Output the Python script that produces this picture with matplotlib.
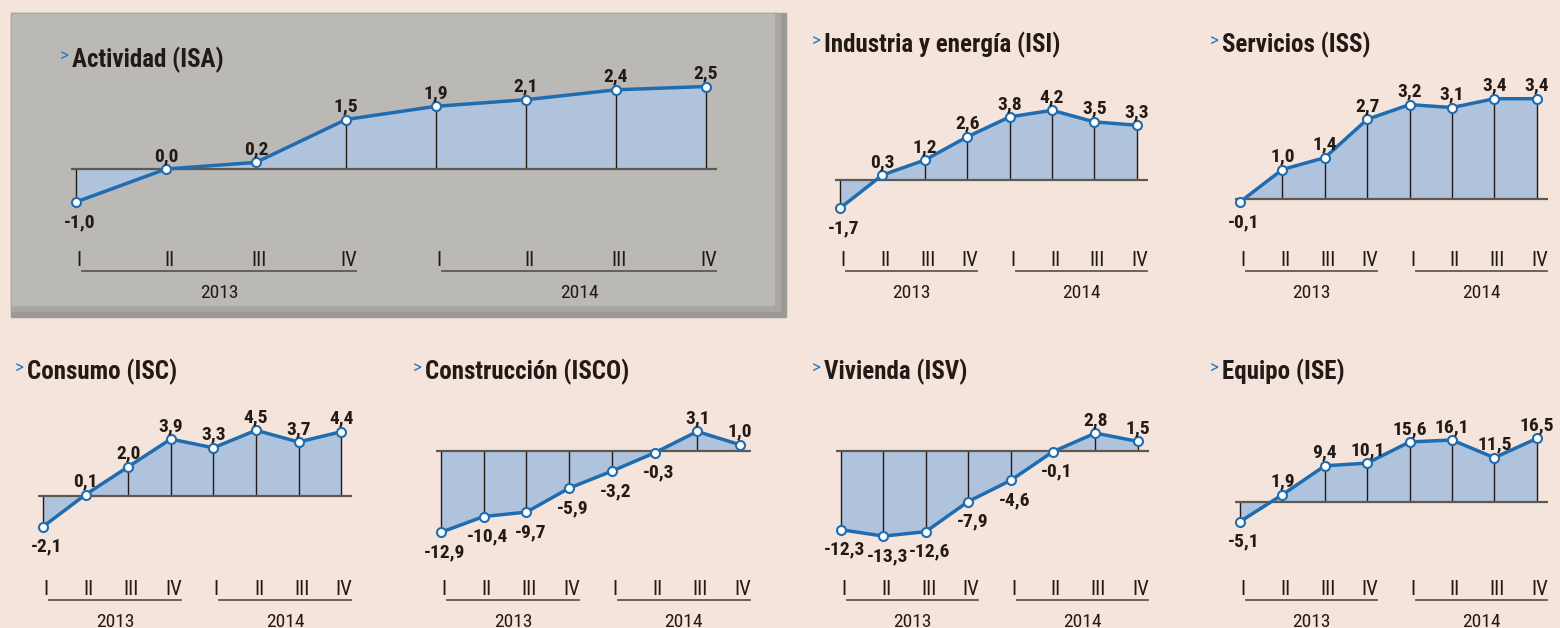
import matplotlib
matplotlib.use('Agg')
import matplotlib.pyplot as plt
from matplotlib import font_manager as fm
from matplotlib.patches import Rectangle

# datos: índices de producción, variación interanual (%)
quarters = ['I', 'II', 'III', 'IV', 'I', 'II', 'III', 'IV']
years = ['2013', '2014']

isa = [-1.0, 0.0, 0.2, 1.5, 1.9, 2.1, 2.4, 2.5]
isi = [-1.7, 0.3, 1.2, 2.6, 3.8, 4.2, 3.5, 3.3]
iss = [-0.1, 1.0, 1.4, 2.7, 3.2, 3.1, 3.4, 3.4]
isc = [-2.1, 0.1, 2.0, 3.9, 3.3, 4.5, 3.7, 4.4]
isco = [-12.9, -10.4, -9.7, -5.9, -3.2, -0.3, 3.1, 1.0]
isv = [-12.3, -13.3, -12.6, -7.9, -4.6, -0.1, 2.8, 1.5]
ise = [-5.1, 1.9, 9.4, 10.1, 15.6, 16.1, 11.5, 16.5]

titles = ['Actividad (ISA)', 'Industria y energía (ISI)', 'Servicios (ISS)',
          'Consumo (ISC)', 'Construcción (ISCO)', 'Vivienda (ISV)', 'Equipo (ISE)']
series = [isa, isi, iss, isc, isco, isv, ise]

# buscar una fuente estrecha
fonts = fm.fontManager.ttflist
names = {f.name for f in fonts}
stretch = 'normal'
fam = 'Liberation Sans'
for cand in ['Liberation Sans Narrow', 'Roboto Condensed', 'Open Sans Condensed']:
    if cand in names:
        fam = cand
        break
else:
    if any(f.name == 'DejaVu Sans' and f.stretch == 'condensed' for f in fonts):
        fam, stretch = 'DejaVu Sans', 'condensed'
plt.rcParams['font.family'] = [fam, 'DejaVu Sans']
plt.rcParams['font.stretch'] = stretch

W, H = 1560, 628
bg = '#f5e4dc'
ink = '#231a15'
blue = '#1f6db0'
fill = '#afc3dc'

fig = plt.figure(figsize=(W / 100, H / 100), dpi=100)
fig.patch.set_facecolor(bg)

# panel gris de Actividad
for (x, y, w, h, c) in [(11, 13, 775, 304, '#9c9894'), (11, 13, 769, 298, '#a9a5a1'),
                        (12, 14, 762, 291, '#bbb9b6')]:
    fig.patches.append(Rectangle((x / W, 1 - (y + h) / H), w / W, h / H,
                                 transform=fig.transFigure, color=c, zorder=-5))

# layout de cada panel (pixeles): primer punto x, paso x, línea cero y, px por unidad,
# y de etiquetas trimestre, y del título, x del título
layout = [
    (76, 90.0, 169, 33.0, 258, 60, 60),
    (840, 42.4, 180, 16.6, 258, 45, 812),
    (1240, 42.4, 199, 29.5, 258, 45, 1210),
    (43, 42.6, 496, 14.6, 587, 372, 15),
    (441, 42.7, 451, 6.3, 587, 372, 413),
    (841, 42.4, 451, 6.4, 587, 372, 812),
    (1240, 42.4, 502, 3.85, 587, 372, 1210),
]

for vals, title, (x0, dx, y0, k, qy, ty, tx) in zip(series, titles, layout):
    top, bot = ty + 15, qy + 45
    left, right = x0 - 30, x0 + 7 * dx + 30
    ax = fig.add_axes([left / W, 1 - bot / H, (right - left) / W, (bot - top) / H])
    ax.set_xlim((left - x0) / dx, (right - x0) / dx)
    ax.set_ylim((y0 - bot) / k, (y0 - top) / k)
    ax.axis('off')
    ax.patch.set_alpha(0)

    xs = list(range(len(vals)))
    ax.fill_between(xs, vals, 0, color=fill, lw=0, zorder=1)
    ax.vlines(xs, 0, vals, color=ink, lw=1.0, zorder=2)
    ax.plot([-5 / dx, 7 + 11 / dx], [0, 0], color='#5e5853', lw=1.6, zorder=2,
            solid_capstyle='butt')
    ax.plot(xs, vals, color=blue, lw=2.5, zorder=3, marker='o', ms=6.5,
            mfc='white', mec=blue, mew=1.5)

    for i, v in enumerate(vals):
        s = f'{v:.1f}'.replace('.', ',')
        off = (4, -25) if v < 0 else (0, 8)
        ax.annotate(s, (i, v), xytext=off, textcoords='offset pixels',
                    ha='center', va='baseline', fontsize=14, fontweight='bold',
                    color=ink, zorder=4)

    # eje de trimestres y años
    for i, q in enumerate(quarters):
        ax.annotate(q, (i, 0), xytext=(3, -(qy - y0) - 8), textcoords='offset pixels',
                    ha='center', va='baseline', fontsize=15, color=ink)
    yl = -(qy - y0 + 13) / k
    for j, yr in enumerate(years):
        a, b = 4 * j + 6 / dx, 4 * j + 3 + 10 / dx
        ax.plot([a, b], [yl, yl], color='#5e5853', lw=1.3)
        ax.annotate(yr, ((a + b) / 2, 0), xytext=(0, -(qy - y0) - 40),
                    textcoords='offset pixels', ha='center', va='baseline',
                    fontsize=14, color=ink, annotation_clip=False)

    fig.text(tx / W, 1 - (ty - 3) / H, '>', fontsize=14, color='#2a7bbf',
             va='center', ha='left')
    fig.text((tx + 12) / W, 1 - ty / H, title, fontsize=18, fontweight='bold',
             color=ink, va='center', ha='left')

fig.savefig('out.png', dpi=100, facecolor=bg)
